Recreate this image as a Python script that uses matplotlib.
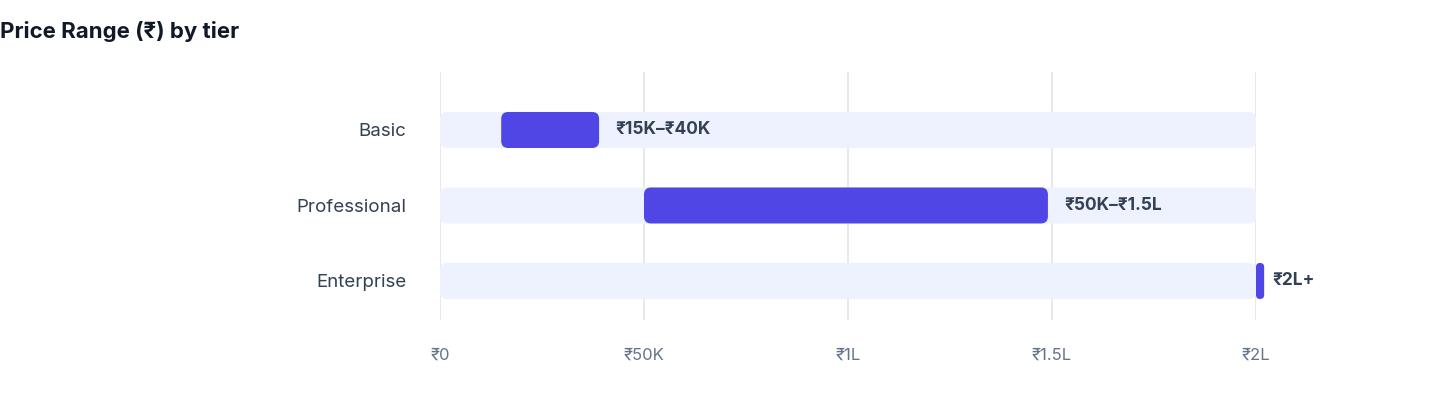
import matplotlib
matplotlib.use("Agg")
import matplotlib.pyplot as plt
from matplotlib.patches import FancyBboxPatch

plt.rcParams['font.family'] = ['Inter', 'DejaVu Sans']

tiers = ["Basic", "Professional", "Enterprise"]
low = [15000, 50000, 200000]
high = [39000, 149000, 202000]
labels = ["₹15K–₹40K", "₹50K–₹1.5L", "₹2L+"]
track_max = 200000
ticks = [0, 50000, 100000, 150000, 200000]
tick_labels = ["₹0", "₹50K", "₹1L", "₹1.5L", "₹2L"]

W, H = 1440, 408
fig = plt.figure(figsize=(W/100, H/100), dpi=100)
ax = fig.add_axes([440/W, (H-320)/H, 816/W, 248/H])
ax.set_xlim(0, 200000)
ax.set_ylim(2.517, -0.768)

xpp = 200000/816
ypp = (2.517+0.768)/248
bh = 0.477
asp = ypp/xpp

def rbar(x0, x1, y, color, r_px):
    w = x1 - x0
    r = min(r_px, (w/xpp)/2) * xpp
    p = FancyBboxPatch((x0, y-bh/2), w, bh, boxstyle=f"round,pad=0,rounding_size={r}",
                       mutation_aspect=asp, facecolor=color, edgecolor='none', clip_on=False, zorder=3)
    ax.add_patch(p)

for i, t in enumerate(tiers):
    rbar(0, track_max, i, "#eef2ff", 7)
    rbar(low[i], high[i], i, "#4f46e5", 7)
    ax.text(high[i] + 8*xpp + 2000*(i < 2) , i, labels[i], ha='left', va='center',
            fontsize=12.5, fontweight='bold', color='#334155', zorder=4)

ax.set_xticks(ticks)
ax.set_xticklabels(tick_labels, fontsize=12, color='#64748b')
ax.set_yticks(range(len(tiers)))
ax.set_yticklabels(tiers, fontsize=13.5, color='#334155')
ax.tick_params(axis='both', length=0)
ax.tick_params(axis='x', pad=20)
ax.tick_params(axis='y', pad=24)
ax.grid(axis='x', color='#e5e7eb', linewidth=1.3, zorder=0)
ax.set_axisbelow(True)
for s in ax.spines.values():
    s.set_visible(False)

fig.text(0/W, 1-32/H, "Price Range (₹) by tier", fontsize=16, fontweight='bold',
         color='#111827', ha='left', va='center')
fig.savefig("out.png", dpi=100)
